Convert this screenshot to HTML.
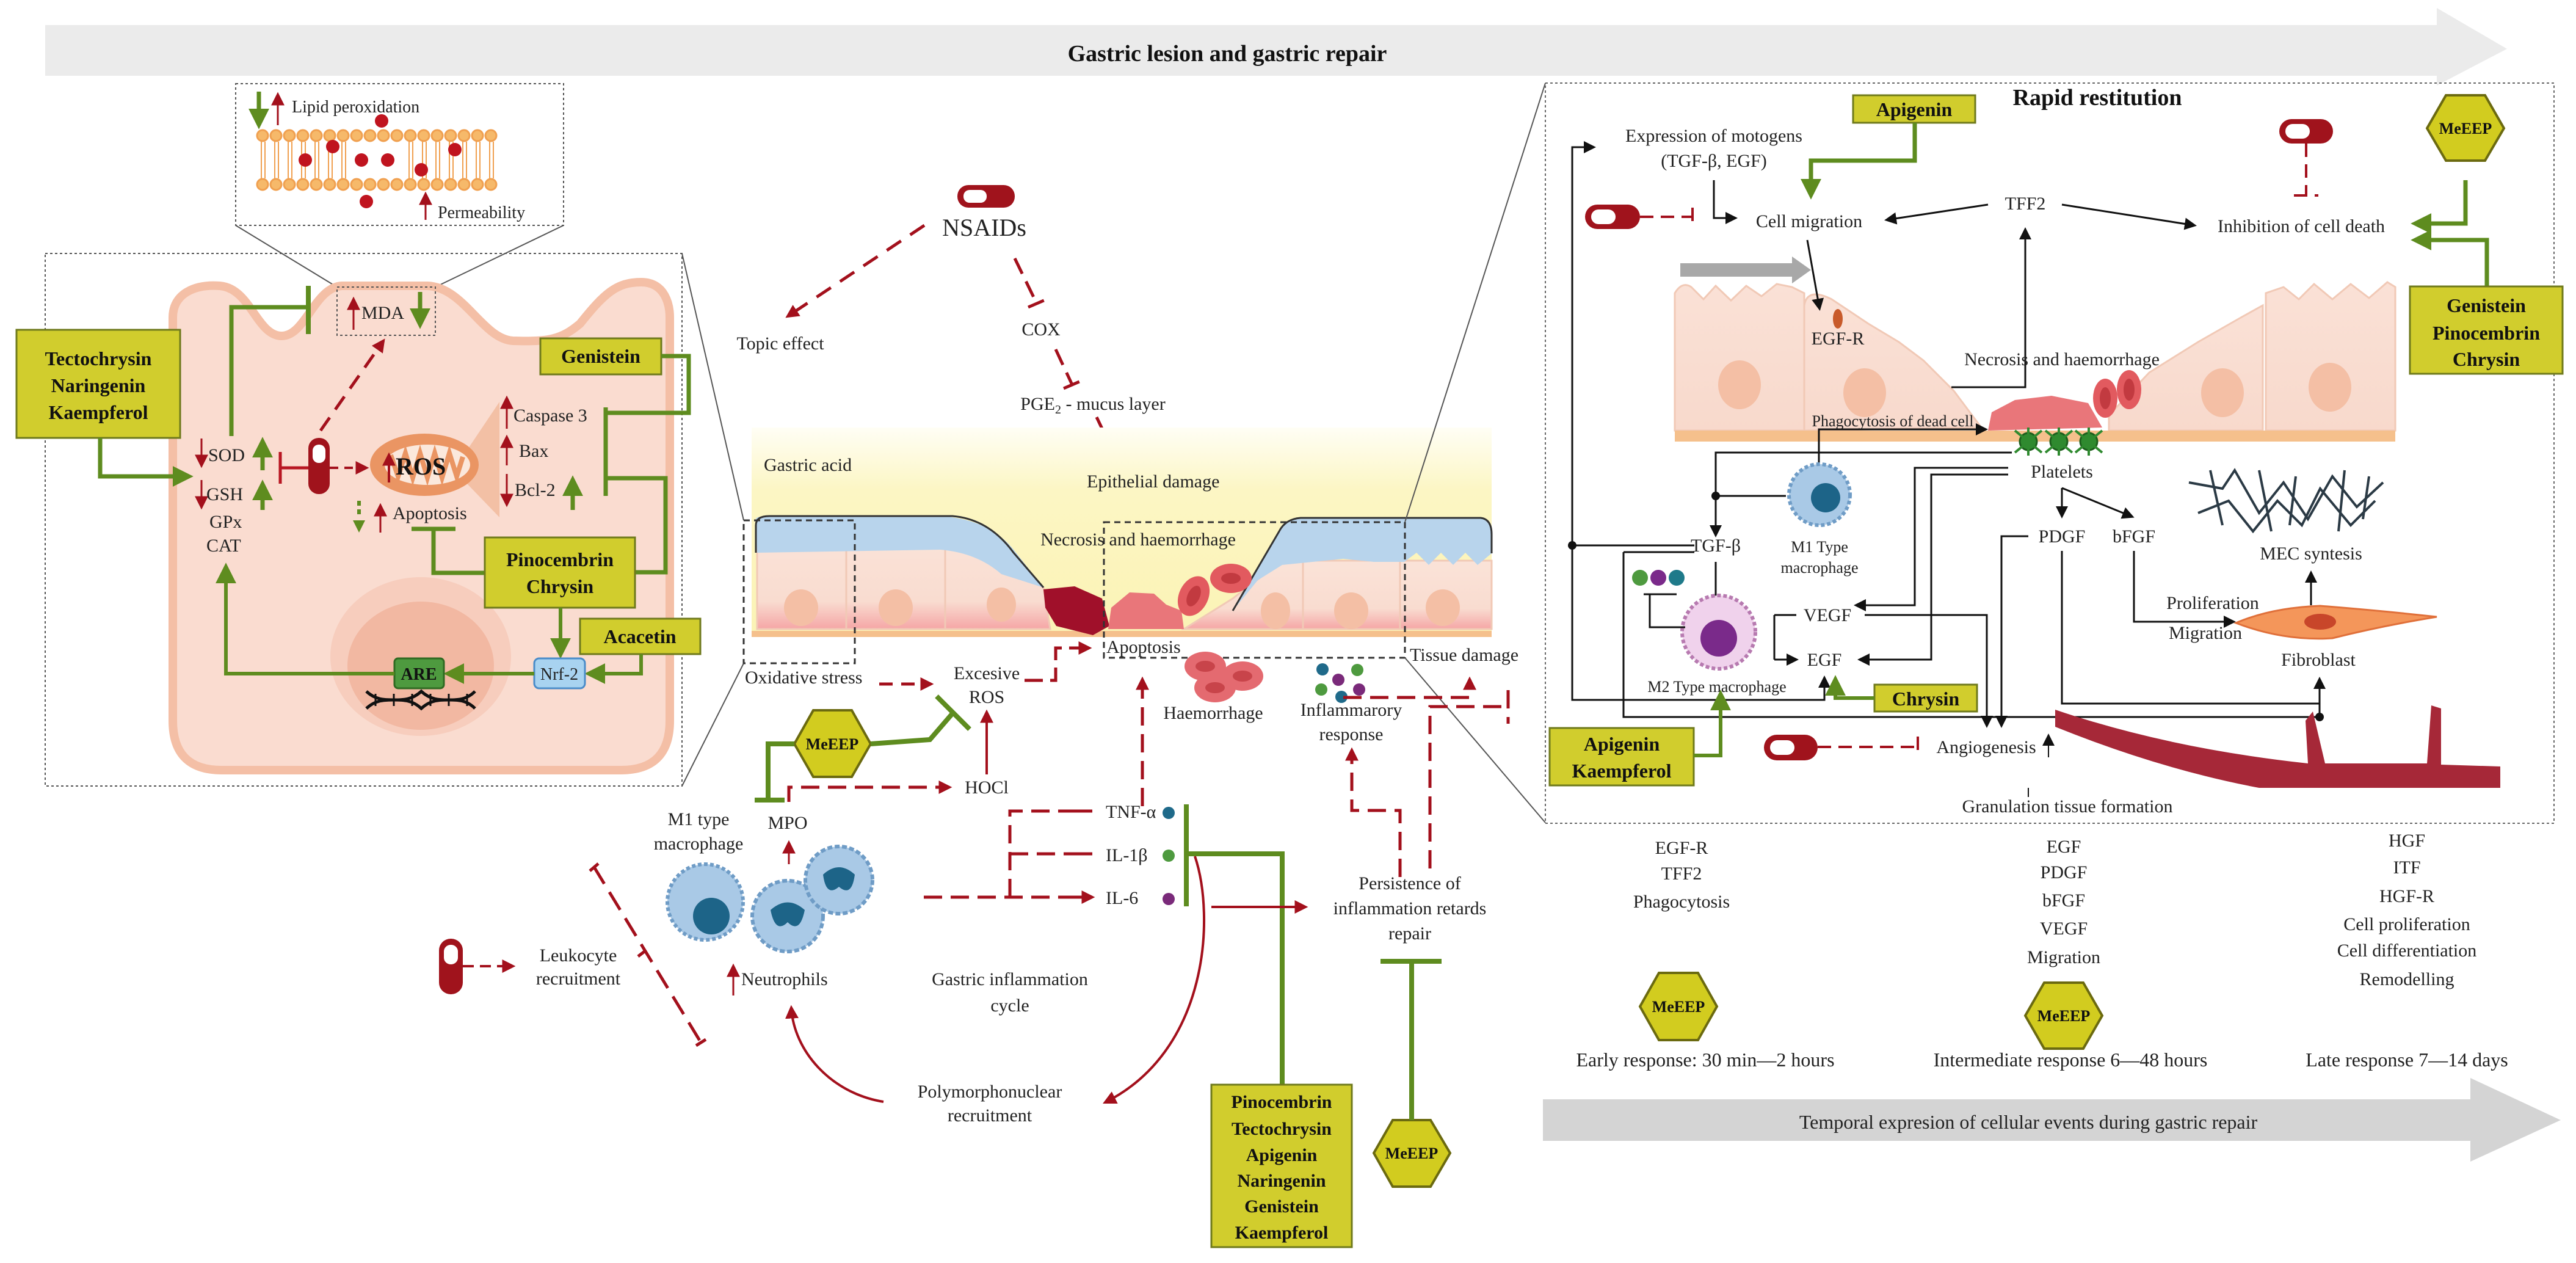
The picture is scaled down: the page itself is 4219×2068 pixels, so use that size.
<!DOCTYPE html>
<html><head><meta charset="utf-8"><style>
html,body{margin:0;padding:0;background:#fff}
svg{display:block}
text{font-family:"Liberation Serif","DejaVu Serif",serif;fill:#222;font-size:30px}
.b{font-weight:bold;fill:#111}
.m{text-anchor:middle}
</style></head><body>
<svg width="4219" height="2068" viewBox="0 0 4219 2068" xmlns="http://www.w3.org/2000/svg">
<defs>
<marker id="ar" viewBox="0 0 10 10" refX="8" refY="5" markerWidth="22" markerHeight="22" markerUnits="userSpaceOnUse" orient="auto"><path d="M0,0L10,5L0,10z" fill="#a3101c"/></marker>
<marker id="ag" viewBox="0 0 10 10" refX="8" refY="5" markerWidth="34" markerHeight="34" markerUnits="userSpaceOnUse" orient="auto"><path d="M0,0L10,5L0,10z" fill="#5e8c1f"/></marker>
<marker id="ak" viewBox="0 0 10 10" refX="8" refY="5" markerWidth="20" markerHeight="20" markerUnits="userSpaceOnUse" orient="auto"><path d="M0,0L10,5L0,10z" fill="#111"/></marker>
<linearGradient id="yel" x1="0" y1="0" x2="0" y2="1"><stop offset="0" stop-color="#fffef5"/><stop offset="0.3" stop-color="#fcf6c4"/><stop offset="1" stop-color="#fbf3b5"/></linearGradient>
<linearGradient id="cellg" x1="0" y1="0" x2="0" y2="1"><stop offset="0" stop-color="#fae3d8"/><stop offset="0.7" stop-color="#f9dcd0"/><stop offset="1" stop-color="#f5a6a6"/></linearGradient>
<linearGradient id="cellr" x1="0" y1="0" x2="0" y2="1"><stop offset="0" stop-color="#fae1d6"/><stop offset="1" stop-color="#f8d9cc"/></linearGradient>
</defs>

<polygon points="74,41 3991,41 3991,13 4106,80 3991,140 3991,124 74,124" fill="#ebebeb"/>
<text x="2010" y="100" class="b m" style="font-size:38px">Gastric lesion and gastric repair</text>

<rect x="386" y="137" width="537" height="232" fill="#fff" stroke="#555" stroke-width="2" stroke-dasharray="4 4"/>
<line x1="386" y1="369" x2="552" y2="470" stroke="#555" stroke-width="2"/>
<line x1="923" y1="369" x2="713" y2="470" stroke="#555" stroke-width="2"/>
<rect x="74" y="415" width="1043" height="872" fill="none" stroke="#555" stroke-width="2" stroke-dasharray="4 4"/>
<line x1="1117" y1="415" x2="1218" y2="852" stroke="#555" stroke-width="2"/>
<line x1="1117" y1="1287" x2="1218" y2="1086" stroke="#555" stroke-width="2"/>

<g stroke="#f0a050" stroke-width="3" fill="#f6b96a">
<g id="lip">
<circle cx="430" cy="222" r="9"/><circle cx="452" cy="222" r="9"/><circle cx="474" cy="222" r="9"/><circle cx="496" cy="222" r="9"/><circle cx="518" cy="222" r="9"/><circle cx="540" cy="222" r="9"/><circle cx="562" cy="222" r="9"/><circle cx="584" cy="222" r="9"/><circle cx="606" cy="222" r="9"/><circle cx="628" cy="222" r="9"/><circle cx="650" cy="222" r="9"/><circle cx="672" cy="222" r="9"/><circle cx="694" cy="222" r="9"/><circle cx="716" cy="222" r="9"/><circle cx="738" cy="222" r="9"/><circle cx="760" cy="222" r="9"/><circle cx="782" cy="222" r="9"/><circle cx="804" cy="222" r="9"/>
</g>
<use href="#lip" y="80"/>
</g>
<g stroke="#f0a050" stroke-width="2">
<path d="M428,232V292M434,232V292M450,232V292M456,232V292M472,232V292M478,232V292M494,232V292M500,232V292M516,232V292M522,232V292M538,232V292M544,232V292M560,232V292M566,232V292M670,232V292M676,232V292M692,232V292M698,232V292M714,232V292M720,232V292M736,232V292M742,232V292M758,232V292M764,232V292M780,232V292M786,232V292M802,232V292M808,232V292"/>
</g>
<g fill="#c0141f"><circle cx="500" cy="262" r="11"/><circle cx="545" cy="240" r="11"/><circle cx="592" cy="262" r="11"/><circle cx="625" cy="198" r="11"/><circle cx="635" cy="262" r="11"/><circle cx="690" cy="278" r="11"/><circle cx="745" cy="245" r="11"/><circle cx="600" cy="330" r="11"/></g>
<path d="M424,150V205" stroke="#5e8c1f" stroke-width="7" marker-end="url(#ag)"/>
<path d="M455,205V155" stroke="#a3101c" stroke-width="3" marker-end="url(#ar)"/>
<text x="478" y="184" style="font-size:28px">Lipid peroxidation</text>
<path d="M697,360V318" stroke="#a3101c" stroke-width="3" marker-end="url(#ar)"/>
<text x="717" y="357" style="font-size:28px">Permeability</text>

<path d="M283,1180V520C283,480 320,465 360,468C410,472 420,548 460,550C500,552 515,470 560,468L700,468C760,470 790,555 840,558C900,560 920,555 950,530C990,480 1010,462 1050,462C1090,462 1097,500 1097,520V1180Q1097,1261 1017,1261H363Q283,1261 283,1180Z" fill="#fadcd0" stroke="#f4bfa6" stroke-width="14"/>
<ellipse cx="689" cy="1075" rx="148" ry="130" fill="#f7cdbd"/>
<ellipse cx="689" cy="1090" rx="120" ry="105" fill="#f2b8a2"/>

<rect x="552" y="470" width="161" height="79" fill="none" stroke="#555" stroke-width="2" stroke-dasharray="4 4"/>
<path d="M579,540V490" stroke="#a3101c" stroke-width="3" marker-end="url(#ar)"/>
<text x="592" y="522">MDA</text>
<path d="M688,478V532" stroke="#5e8c1f" stroke-width="7" marker-end="url(#ag)"/>

<rect x="27" y="540" width="268" height="177" fill="#d1cd2d" stroke="#6f7a1c" stroke-width="3"/>
<text x="161" y="598" class="b m" style="font-size:32px">Tectochrysin</text>
<text x="161" y="642" class="b m" style="font-size:32px">Naringenin</text>
<text x="161" y="686" class="b m" style="font-size:32px">Kaempferol</text>
<path d="M164,717V780H310" fill="none" stroke="#5e8c1f" stroke-width="7" marker-end="url(#ag)"/>

<path d="M330,718V762" stroke="#a3101c" stroke-width="3" marker-end="url(#ar)"/>
<path d="M330,786V830" stroke="#a3101c" stroke-width="3" marker-end="url(#ar)"/>
<text x="341" y="755">SOD</text>
<text x="338" y="819">GSH</text>
<text x="343" y="864">GPx</text>
<text x="338" y="903">CAT</text>
<path d="M430,770V722" stroke="#5e8c1f" stroke-width="7" marker-end="url(#ag)"/>
<path d="M430,835V792" stroke="#5e8c1f" stroke-width="7" marker-end="url(#ag)"/>
<path d="M379,714V503H505" fill="none" stroke="#5e8c1f" stroke-width="7"/>
<path d="M505,468V547" stroke="#5e8c1f" stroke-width="8"/>
<path d="M459,740V792M459,766H505" stroke="#b81622" stroke-width="5" fill="none"/>
<rect x="505" y="717" width="35" height="92" rx="17" fill="#a0131c"/>
<rect x="512" y="728" width="21" height="30" rx="10" fill="#fff"/>
<path d="M540,766H600" stroke="#a3101c" stroke-width="4" stroke-dasharray="14 10" marker-end="url(#ar)"/>
<path d="M525,705L628,558" stroke="#a3101c" stroke-width="5" stroke-dasharray="26 16" marker-end="url(#ar)"/>
<polygon points="763,740 818,658 818,847 763,790" fill="#f3c0a5"/>
<ellipse cx="695" cy="761" rx="89" ry="51" fill="#ea9563"/>
<ellipse cx="700" cy="761" rx="70" ry="33" fill="#fbe8dc"/>
<path d="M640,745L652,780L664,742L676,782L688,742L700,782L712,742L724,782L736,742L748,780L758,748" fill="none" stroke="#ea9563" stroke-width="8"/>
<path d="M637,790V745" stroke="#a3101c" stroke-width="4" marker-end="url(#ar)"/>
<text x="648" y="777" class="b" style="font-size:40px">ROS</text>
<path d="M830,702V652" stroke="#a3101c" stroke-width="3" marker-end="url(#ar)"/>
<text x="841" y="690">Caspase 3</text>
<path d="M830,762V716" stroke="#a3101c" stroke-width="3" marker-end="url(#ar)"/>
<text x="850" y="748">Bax</text>
<path d="M830,776V826" stroke="#a3101c" stroke-width="3" marker-end="url(#ar)"/>
<text x="843" y="812">Bcl-2</text>
<path d="M938,835V785" stroke="#5e8c1f" stroke-width="7" marker-end="url(#ag)"/>
<path d="M588,820V848" stroke="#5e8c1f" stroke-width="6" stroke-dasharray="8 6"/>
<path d="M578,852L598,852L588,872Z" fill="#5e8c1f"/>
<path d="M623,872V828" stroke="#a3101c" stroke-width="3" marker-end="url(#ar)"/>
<text x="643" y="850">Apoptosis</text>
<path d="M674,866H746M710,866V938H794" fill="none" stroke="#5e8c1f" stroke-width="7"/>

<rect x="885" y="554" width="198" height="59" fill="#d1cd2d" stroke="#6f7a1c" stroke-width="3"/>
<text x="984" y="594" class="b m" style="font-size:32px">Genistein</text>
<path d="M1083,583H1128V676H992M992,667V812M1040,937H1090V783H992" fill="none" stroke="#5e8c1f" stroke-width="7"/>
<rect x="794" y="880" width="246" height="115" fill="#d1cd2d" stroke="#6f7a1c" stroke-width="3"/>
<text x="917" y="927" class="b m" style="font-size:32px">Pinocembrin</text>
<text x="917" y="971" class="b m" style="font-size:32px">Chrysin</text>
<rect x="950" y="1013" width="197" height="58" fill="#d1cd2d" stroke="#6f7a1c" stroke-width="3"/>
<text x="1048" y="1053" class="b m" style="font-size:32px">Acacetin</text>
<path d="M918,995V1072" stroke="#5e8c1f" stroke-width="6" marker-end="url(#ag)"/>
<path d="M1050,1071V1103H964" fill="none" stroke="#5e8c1f" stroke-width="6" marker-end="url(#ag)"/>
<rect x="875" y="1078" width="83" height="49" rx="8" fill="#a8d3f0" stroke="#4a8cc9" stroke-width="3"/>
<text x="916" y="1113" class="m" style="font-size:28px">Nrf-2</text>
<path d="M875,1103H733" stroke="#5e8c1f" stroke-width="6" marker-end="url(#ag)"/>
<rect x="646" y="1078" width="81" height="49" rx="6" fill="#4e9a3f" stroke="#2f6a22" stroke-width="3"/>
<text x="686" y="1113" class="b m" style="font-size:28px">ARE</text>
<path d="M646,1103H370V928" fill="none" stroke="#5e8c1f" stroke-width="6" marker-end="url(#ag)"/>
<g stroke="#111" stroke-width="5" fill="none"><path d="M600,1132C630,1160 660,1132 690,1160C720,1132 750,1160 778,1132"/><path d="M600,1160C630,1132 660,1160 690,1132C720,1160 750,1132 778,1160"/><path d="M615,1136V1156M645,1136V1156M675,1136V1156M705,1136V1156M735,1136V1156M765,1136V1156" stroke-width="3"/></g>

<rect x="1568" y="303" width="94" height="37" rx="18" fill="#a0131c"/>
<rect x="1578" y="311" width="38" height="21" rx="10" fill="#fff"/>
<text x="1612" y="386" class="m" style="font-size:40px">NSAIDs</text>
<path d="M1514,369L1290,518" stroke="#a3101c" stroke-width="5" stroke-dasharray="28 18" marker-end="url(#ar)"/>
<text x="1278" y="572" class="m">Topic effect</text>
<path d="M1662,423L1698,497M1684,503L1712,491" stroke="#a3101c" stroke-width="5" stroke-dasharray="28 14" fill="none"/>
<text x="1705" y="549" class="m">COX</text>
<path d="M1729,572L1756,630M1742,636L1770,624" stroke="#a3101c" stroke-width="5" stroke-dasharray="28 14" fill="none"/>
<text x="1790" y="671" class="m">PGE<tspan dy="6" style="font-size:20px">2</tspan><tspan dy="-6"> - mucus layer</tspan></text>
<path d="M1796,683L1829,752" stroke="#a3101c" stroke-width="5" stroke-dasharray="28 14" marker-end="url(#ar)"/>

<rect x="1231" y="700" width="1212" height="340" fill="url(#yel)"/>
<text x="1251" y="771">Gastric acid</text>
<text x="1780" y="798">Epithelial damage</text>
<path d="M1240,1030V880L1386,880V1030Z M1386,880H1548V1030H1386Z" fill="url(#cellg)" stroke="#f1c9b6" stroke-width="3"/>
<path d="M1548,880L1630,900L1709,962L1720,1030H1548Z" fill="url(#cellg)" stroke="#f1c9b6" stroke-width="3"/>
<path d="M1238,850Q1238,845 1260,845H1540Q1620,850 1660,900L1709,962L1640,940Q1600,905 1540,900L1240,905Z" fill="#b8d4ec"/>
<path d="M1238,905V860Q1238,845 1260,845H1560Q1620,850 1660,905L1709,962" fill="none" stroke="#333" stroke-width="3"/>
<ellipse cx="1312" cy="995" rx="28" ry="30" fill="#f4bfa5"/><ellipse cx="1467" cy="995" rx="28" ry="30" fill="#f4bfa5"/><ellipse cx="1640" cy="990" rx="24" ry="28" fill="#f4bfa5"/>
<path d="M2019,980L2100,918H2443V1030H1939Z" fill="url(#cellg)" stroke="#f1c9b6" stroke-width="3"/>
<path d="M2134,918V1030M2293,918V1030" stroke="#f1c9b6" stroke-width="3"/>
<path d="M2019,1000L2095,870Q2100,850 2130,848H2425Q2443,850 2443,875V906L2420,925L2400,905L2380,925L2360,905L2340,925L2320,905L2300,920L2250,920L2200,915L2150,920L2100,925L2060,950Z" fill="#b8d4ec"/>
<path d="M2019,1000L2095,870Q2105,850 2130,848H2425Q2443,850 2443,875V906" fill="none" stroke="#333" stroke-width="3"/>
<ellipse cx="2089" cy="1000" rx="24" ry="30" fill="#f4bfa5"/><ellipse cx="2213" cy="1000" rx="28" ry="30" fill="#f4bfa5"/><ellipse cx="2363" cy="995" rx="28" ry="30" fill="#f4bfa5"/>
<rect x="1231" y="1033" width="1212" height="10" fill="#f5c08c"/>
<path d="M1709,965L1760,960L1805,980L1817,1025L1790,1040L1730,1025L1712,995Z" fill="#a0102a"/>
<path d="M1815,1030L1820,995L1850,970L1890,972L1910,990L1935,1000L1939,1030Z" fill="#e9767a"/>
<ellipse cx="1955" cy="976" rx="24" ry="34" fill="#e25a5f" transform="rotate(25 1955 976)"/><ellipse cx="1955" cy="976" rx="10" ry="18" fill="#c23a40" transform="rotate(25 1955 976)"/>
<ellipse cx="2016" cy="947" rx="34" ry="24" fill="#e25a5f"/><ellipse cx="2016" cy="947" rx="16" ry="9" fill="#c23a40"/>
<rect x="1218" y="852" width="182" height="234" fill="none" stroke="#333" stroke-width="3" stroke-dasharray="10 7"/>
<rect x="1808" y="855" width="493" height="222" fill="none" stroke="#333" stroke-width="3" stroke-dasharray="10 7"/>
<text x="1864" y="893" class="m">Necrosis and haemorrhage</text>
<text x="1812" y="1069">Apoptosis</text>
<text x="2309" y="1082">Tissue damage</text>
<line x1="2301" y1="855" x2="2531" y2="136" stroke="#555" stroke-width="2"/>
<line x1="2301" y1="1077" x2="2531" y2="1347" stroke="#555" stroke-width="2"/>

<text x="1220" y="1119">Oxidative stress</text>
<path d="M1440,1120H1525" stroke="#a3101c" stroke-width="5" stroke-dasharray="22 14" marker-end="url(#ar)"/>
<text x="1616" y="1112" class="m">Excesive</text>
<text x="1616" y="1151" class="m">ROS</text>
<path d="M1678,1114H1729V1061H1784" fill="none" stroke="#a3101c" stroke-width="5" stroke-dasharray="30 12" marker-end="url(#ar)"/>
<g fill="#e46a70"><ellipse cx="1974" cy="1091" rx="34" ry="24"/><ellipse cx="2035" cy="1107" rx="34" ry="24"/><ellipse cx="1990" cy="1126" rx="34" ry="24"/></g>
<g fill="#c8444a"><ellipse cx="1974" cy="1091" rx="16" ry="9"/><ellipse cx="2035" cy="1107" rx="16" ry="9"/><ellipse cx="1990" cy="1126" rx="16" ry="9"/></g>
<text x="1987" y="1177" class="m">Haemorrhage</text>
<g><circle cx="2166" cy="1096" r="10" fill="#1f6a8a"/><circle cx="2223" cy="1097" r="10" fill="#4e9a3f"/><circle cx="2192" cy="1113" r="10" fill="#7a2a7a"/><circle cx="2164" cy="1129" r="10" fill="#4e9a3f"/><circle cx="2197" cy="1141" r="10" fill="#1f6a8a"/><circle cx="2226" cy="1129" r="10" fill="#7a2a7a"/></g>
<text x="2213" y="1172" class="m">Inflammarory</text>
<text x="2213" y="1212" class="m">response</text>
<path d="M2200,1142H2407V1112" fill="none" stroke="#a3101c" stroke-width="5" stroke-dasharray="30 14" marker-end="url(#ar)"/>
<path d="M2342,1422V1157H2470M2470,1130V1185" fill="none" stroke="#a3101c" stroke-width="5" stroke-dasharray="30 14"/>
<path d="M2293,1436V1327H2214V1228" fill="none" stroke="#a3101c" stroke-width="5" stroke-dasharray="30 14" marker-end="url(#ar)"/>
<path d="M1871,1320V1112" stroke="#a3101c" stroke-width="5" stroke-dasharray="30 14" marker-end="url(#ar)"/>

<polygon points="1301,1218 1332,1163 1395,1163 1426,1218 1395,1272 1332,1272" fill="#d2cc1f" stroke="#6b6a10" stroke-width="4"/>
<text x="1363" y="1227" class="b m" style="font-size:26px">MeEEP</text>
<path d="M1426,1218L1523,1211L1561,1167M1534,1140L1588,1194M1301,1218H1258V1310M1236,1310H1285" fill="none" stroke="#5e8c1f" stroke-width="8"/>
<text x="1616" y="1299" class="m">HOCl</text>
<path d="M1292,1313V1289H1555" fill="none" stroke="#a3101c" stroke-width="5" stroke-dasharray="30 14" marker-end="url(#ar)"/>
<path d="M1616,1268V1166" stroke="#a3101c" stroke-width="4" marker-end="url(#ar)"/>
<text x="1290" y="1357" class="m">MPO</text>
<path d="M1292,1415V1380" stroke="#a3101c" stroke-width="3" marker-end="url(#ar)"/>
<text x="1144" y="1351" class="m">M1 type</text>
<text x="1144" y="1391" class="m">macrophage</text>
<circle cx="1155" cy="1477" r="62" fill="#a9c9e6" stroke="#6f9cc6" stroke-width="6" stroke-dasharray="6 4"/>
<circle cx="1165" cy="1500" r="30" fill="#1d6488"/>
<circle cx="1290" cy="1500" r="58" fill="#a9c9e6" stroke="#6f9cc6" stroke-width="6" stroke-dasharray="8 4"/>
<path d="M1262,1490Q1290,1465 1318,1490Q1310,1530 1290,1510Q1270,1530 1262,1490Z" fill="#1d6488"/>
<circle cx="1374" cy="1441" r="55" fill="#a9c9e6" stroke="#6f9cc6" stroke-width="6" stroke-dasharray="8 4"/>
<path d="M1348,1432Q1374,1408 1400,1432Q1395,1470 1374,1452Q1353,1470 1348,1432Z" fill="#1d6488"/>
<path d="M1201,1630V1582" stroke="#a3101c" stroke-width="3" marker-end="url(#ar)"/>
<text x="1214" y="1613">Neutrophils</text>
<text x="1654" y="1613" class="m">Gastric inflammation</text>
<text x="1654" y="1656" class="m">cycle</text>
<path d="M1513,1469H1782M1654,1469V1328H1782M1654,1398H1782" fill="none" stroke="#a3101c" stroke-width="5" stroke-dasharray="30 14"/>
<path d="M1760,1328H1789M1760,1398H1789M1760,1469H1789" stroke="#a3101c" stroke-width="5" marker-end="url(#ar)"/>
<text x="1811" y="1339">TNF-α</text>
<text x="1811" y="1410">IL-1β</text>
<text x="1811" y="1480">IL-6</text>
<circle cx="1914" cy="1331" r="10" fill="#1f6a8a"/><circle cx="1914" cy="1401" r="10" fill="#4e9a3f"/><circle cx="1914" cy="1472" r="10" fill="#7a2a7a"/>
<path d="M1943,1317V1484M1943,1398H2100V1776" fill="none" stroke="#5e8c1f" stroke-width="8"/>
<path d="M1984,1485H2138" stroke="#a3101c" stroke-width="4" marker-end="url(#ar)"/>
<text x="2309" y="1456" class="m">Persistence of</text>
<text x="2309" y="1497" class="m">inflammation retards</text>
<text x="2309" y="1538" class="m">repair</text>
<path d="M1957,1402C1990,1500 1980,1720 1810,1805" fill="none" stroke="#a3101c" stroke-width="4" marker-end="url(#ar)"/>
<path d="M1447,1804C1360,1790 1300,1720 1296,1650" fill="none" stroke="#a3101c" stroke-width="4" marker-end="url(#ar)"/>
<text x="1621" y="1797" class="m">Polymorphonuclear</text>
<text x="1621" y="1836" class="m">recruitment</text>
<rect x="1984" y="1776" width="230" height="266" fill="#d1cd2d" stroke="#6f7a1c" stroke-width="3"/>
<text x="2099" y="1814" class="b m">Pinocembrin</text>
<text x="2099" y="1858" class="b m">Tectochrysin</text>
<text x="2099" y="1901" class="b m">Apigenin</text>
<text x="2099" y="1943" class="b m">Naringenin</text>
<text x="2099" y="1985" class="b m">Genistein</text>
<text x="2099" y="2028" class="b m">Kaempferol</text>
<polygon points="2250,1888 2281,1834 2343,1834 2375,1888 2343,1943 2281,1943" fill="#d2cc1f" stroke="#6b6a10" stroke-width="4"/>
<text x="2312" y="1897" class="b m" style="font-size:26px">MeEEP</text>
<path d="M2312,1834V1574M2261,1574H2361" fill="none" stroke="#5e8c1f" stroke-width="8"/>
<rect x="719" y="1537" width="39" height="91" rx="19" fill="#a0131c"/>
<rect x="727" y="1547" width="23" height="32" rx="11" fill="#fff"/>
<path d="M758,1582H840" stroke="#a3101c" stroke-width="4" stroke-dasharray="18 10" marker-end="url(#ar)"/>
<text x="947" y="1574" class="m">Leukocyte</text>
<text x="947" y="1612" class="m">recruitment</text>
<path d="M972,1418L1148,1707M966,1426L980,1414M1140,1712L1156,1702M1045,1566L1058,1556" fill="none" stroke="#a3101c" stroke-width="5" stroke-dasharray="34 16"/>

<rect x="2531" y="136" width="1652" height="1212" fill="none" stroke="#666" stroke-width="2" stroke-dasharray="4 4"/>
<text x="3435" y="172" class="b m" style="font-size:38px">Rapid restitution</text>
<rect x="3035" y="156" width="200" height="45" fill="#d1cd2d" stroke="#6f7a1c" stroke-width="3"/>
<text x="3135" y="190" class="b m" style="font-size:32px">Apigenin</text>
<path d="M3136,201V263H2966V320" fill="none" stroke="#5e8c1f" stroke-width="7" marker-end="url(#ag)"/>
<text x="2807" y="232" class="m">Expression of motogens</text>
<text x="2807" y="273" class="m">(TGF-β, EGF)</text>
<path d="M2575,893V241H2610" fill="none" stroke="#111" stroke-width="3" marker-end="url(#ak)"/>
<path d="M2575,893V1146H2988V1110" fill="none" stroke="#111" stroke-width="3" marker-end="url(#ak)"/>
<circle cx="2575" cy="893" r="7" fill="#111"/>
<rect x="2596" y="335" width="90" height="40" rx="20" fill="#a0131c"/><rect x="2606" y="343" width="40" height="24" rx="12" fill="#fff"/>
<path d="M2686,355H2770M2772,340V370" fill="none" stroke="#a3101c" stroke-width="4" stroke-dasharray="22 12"/>
<path d="M2807,295V357H2842" fill="none" stroke="#111" stroke-width="3" marker-end="url(#ak)"/>
<text x="2963" y="372" class="m">Cell migration</text>
<text x="3317" y="343" class="m">TFF2</text>
<path d="M3256,335L3090,360" stroke="#111" stroke-width="3" marker-end="url(#ak)"/>
<path d="M3377,335L3594,369" stroke="#111" stroke-width="3" marker-end="url(#ak)"/>
<text x="3769" y="380" class="m">Inhibition of cell death</text>
<rect x="3733" y="195" width="88" height="40" rx="20" fill="#a0131c"/><rect x="3743" y="203" width="40" height="24" rx="12" fill="#fff"/>
<path d="M3777,235V320M3757,320H3797" fill="none" stroke="#a3101c" stroke-width="4" stroke-dasharray="22 12"/>
<polygon points="3975,210 4006,156 4070,156 4101,210 4070,263 4006,263" fill="#d2cc1f" stroke="#6b6a10" stroke-width="4"/>
<text x="4038" y="219" class="b m" style="font-size:26px">MeEEP</text>
<path d="M4038,295V366H3955" fill="none" stroke="#5e8c1f" stroke-width="7" marker-end="url(#ag)"/>
<path d="M4073,469V393H3955" fill="none" stroke="#5e8c1f" stroke-width="7" marker-end="url(#ag)"/>
<rect x="3947" y="469" width="250" height="143" fill="#d1cd2d" stroke="#6f7a1c" stroke-width="3"/>
<text x="4072" y="511" class="b m" style="font-size:32px">Genistein</text>
<text x="4072" y="556" class="b m" style="font-size:32px">Pinocembrin</text>
<text x="4072" y="599" class="b m" style="font-size:32px">Chrysin</text>
<polygon points="2752,431 2935,431 2935,420 2966,442 2935,464 2935,453 2752,453" fill="#a8a8a8"/>
<path d="M2743,705V480Q2755,460 2770,470L2790,490L2810,468L2835,492L2860,468L2885,485L2910,465L2935,470L2955,480V705Z" fill="url(#cellr)" stroke="#f1c9b6" stroke-width="3"/>
<path d="M2955,705V500Q2960,470 3000,490L3060,530L3110,560L3150,590L3200,640L3245,700Z" fill="url(#cellr)" stroke="#f1c9b6" stroke-width="3"/>
<path d="M3454,705V680L3520,610L3600,560L3670,520L3706,500V705Z" fill="url(#cellr)" stroke="#f1c9b6" stroke-width="3"/>
<path d="M3711,705V480L3740,470L3765,490L3790,465L3820,490L3850,465L3880,488L3910,462L3923,470V705Z" fill="url(#cellr)" stroke="#f1c9b6" stroke-width="3"/>
<rect x="2743" y="705" width="1180" height="18" fill="#f5c08c"/>
<g fill="#f4bfa5"><ellipse cx="2849" cy="630" rx="35" ry="40"/><ellipse cx="3054" cy="643" rx="35" ry="40"/><ellipse cx="3640" cy="643" rx="35" ry="40"/><ellipse cx="3816" cy="634" rx="35" ry="40"/></g>
<path d="M3256,705L3262,675L3300,655L3360,648L3420,660L3443,700Z" fill="#e9767a"/>
<ellipse cx="3448" cy="652" rx="20" ry="32" fill="#e25a5f"/><ellipse cx="3487" cy="638" rx="20" ry="32" fill="#e25a5f"/>
<ellipse cx="3448" cy="652" rx="9" ry="18" fill="#c23a40"/><ellipse cx="3487" cy="638" rx="9" ry="18" fill="#c23a40"/>
<ellipse cx="3010" cy="522" rx="8" ry="16" fill="#c85a2a"/>
<path d="M2960,393L2980,505" stroke="#111" stroke-width="3" marker-end="url(#ak)"/>
<text x="3010" y="564" class="m">EGF-R</text>
<path d="M3196,634H3317V376" fill="none" stroke="#111" stroke-width="3" marker-end="url(#ak)"/>
<text x="3377" y="598" class="m">Necrosis and haemorrhage</text>
<text x="3100" y="698" class="m" style="font-size:26px">Phagocytosis of dead cell</text>
<path d="M2979,759V703H3252" fill="none" stroke="#111" stroke-width="3" marker-end="url(#ak)"/>
<g fill="#2f8a2f" stroke="#1d5e1d" stroke-width="3"><circle cx="3322" cy="723" r="14"/><circle cx="3372" cy="723" r="14"/><circle cx="3421" cy="723" r="14"/></g>
<g stroke="#2f8a2f" stroke-width="4"><path d="M3300,705L3344,741M3344,705L3300,741M3322,700V746M3350,705L3394,741M3394,705L3350,741M3372,700V746M3399,705L3443,741M3443,705L3399,741M3421,700V746"/></g>
<text x="3377" y="782" class="m">Platelets</text>
<path d="M3295,741H2810V876" fill="none" stroke="#111" stroke-width="3" marker-end="url(#ak)"/>
<path d="M2810,812H2925" stroke="#111" stroke-width="3"/><circle cx="2810" cy="812" r="7" fill="#111"/>
<circle cx="2980" cy="810" r="50" fill="#a9c9e6" stroke="#6f9cc6" stroke-width="6" stroke-dasharray="6 4"/>
<circle cx="2990" cy="815" r="24" fill="#1d6488"/>
<text x="2980" y="904" class="m" style="font-size:26px">M1 Type</text>
<text x="2980" y="938" class="m" style="font-size:26px">macrophage</text>
<text x="2810" y="903" class="m">TGF-β</text>
<path d="M2575,893H2775M2659,904H2775M2659,904V1174H3799" fill="none" stroke="#111" stroke-width="3"/>
<path d="M2810,920V982" stroke="#111" stroke-width="3"/>
<circle cx="3799" cy="1174" r="7" fill="#111"/>
<path d="M3799,1174V1112" stroke="#111" stroke-width="3" marker-end="url(#ak)"/>
<path d="M3289,766H3136V991H3040" fill="none" stroke="#111" stroke-width="3" marker-end="url(#ak)"/>
<path d="M3289,777H3163V1080H3046" fill="none" stroke="#111" stroke-width="3" marker-end="url(#ak)"/>
<text x="3377" y="888" class="m">PDGF</text>
<text x="3495" y="888" class="m">bFGF</text>
<path d="M3377,799V845" stroke="#111" stroke-width="3" marker-end="url(#ak)"/>
<path d="M3377,799L3492,846" stroke="#111" stroke-width="3" marker-end="url(#ak)"/>
<path d="M3322,878H3278V1188" fill="none" stroke="#111" stroke-width="3" marker-end="url(#ak)"/>
<path d="M3377,902V1152H3799" fill="none" stroke="#111" stroke-width="3"/>
<path d="M3495,902V1018H3658" fill="none" stroke="#111" stroke-width="3" marker-end="url(#ak)"/>
<text x="2993" y="1017" class="m">VEGF</text>
<text x="2988" y="1090" class="m">EGF</text>
<path d="M2906,1007V1080M2906,1007H2936M2906,1080H2936" fill="none" stroke="#111" stroke-width="3"/>
<path d="M2920,1007H2942M2920,1080H2942" stroke="#111" stroke-width="3" marker-end="url(#ak)"/>
<path d="M3054,1007H3254V1188" fill="none" stroke="#111" stroke-width="3" marker-end="url(#ak)"/>
<circle cx="2815" cy="1035" r="60" fill="#f0d2ec" stroke="#b77ab0" stroke-width="6" stroke-dasharray="6 4"/>
<circle cx="2815" cy="1045" r="30" fill="#7a2a8a"/>
<text x="2812" y="1133" class="m" style="font-size:26px">M2 Type macrophage</text>
<circle cx="2686" cy="946" r="13" fill="#4e9a3f"/><circle cx="2716" cy="946" r="13" fill="#7a2a8a"/><circle cx="2746" cy="946" r="13" fill="#1f7a8a"/>
<path d="M2692,973H2746M2702,973V1027H2760" fill="none" stroke="#111" stroke-width="3"/>
<rect x="3070" y="1121" width="168" height="44" fill="#d1cd2d" stroke="#6f7a1c" stroke-width="3"/>
<text x="3154" y="1155" class="b m" style="font-size:32px">Chrysin</text>
<path d="M3070,1143H3006V1112" fill="none" stroke="#5e8c1f" stroke-width="6" marker-end="url(#ag)"/>
<rect x="2538" y="1192" width="236" height="94" fill="#d1cd2d" stroke="#6f7a1c" stroke-width="3"/>
<text x="2656" y="1229" class="b m" style="font-size:32px">Apigenin</text>
<text x="2656" y="1273" class="b m" style="font-size:32px">Kaempferol</text>
<path d="M2774,1237H2818V1136" fill="none" stroke="#5e8c1f" stroke-width="6" marker-end="url(#ag)"/>
<rect x="2889" y="1203" width="88" height="42" rx="21" fill="#a0131c"/><rect x="2899" y="1212" width="40" height="24" rx="12" fill="#fff"/>
<path d="M2977,1223H3140M3141,1206V1240" fill="none" stroke="#a3101c" stroke-width="4" stroke-dasharray="22 12"/>
<text x="3253" y="1233" class="m">Angiogenesis</text>
<path d="M3355,1240V1205" stroke="#111" stroke-width="2" marker-end="url(#ak)"/>
<path d="M3366,1162Q3550,1225 3780,1250L3776,1180L3788,1165L3808,1250L3975,1250L3982,1155L3998,1160L3998,1252L4095,1255L4095,1290L3700,1290Q3540,1260 3366,1190Z" fill="#a62838"/>
<path d="M3322,1290V1305" stroke="#111" stroke-width="2"/>
<text x="3386" y="1330" class="m">Granulation tissue formation</text>
<g stroke="#2b3a45" stroke-width="4" fill="none"><path d="M3585,790L3640,800L3660,770L3700,840L3740,790L3780,850L3820,780L3860,830L3903,790M3600,840L3650,820L3690,870L3730,820L3770,860L3800,800L3850,860L3890,820M3620,770L3640,860M3700,770L3720,870M3760,780L3750,860M3840,770L3830,870M3880,780L3870,850"/></g>
<text x="3785" y="916" class="m">MEC syntesis</text>
<path d="M3785,991V938" stroke="#111" stroke-width="3" marker-end="url(#ak)"/>
<text x="3624" y="997" class="m">Proliferation</text>
<text x="3612" y="1046" class="m">Migration</text>
<path d="M3662,1020Q3720,995 3800,992Q3900,1000 3991,1010Q3900,1025 3820,1045Q3740,1050 3662,1020Z" fill="#f4965a" stroke="#e0703a" stroke-width="3"/>
<ellipse cx="3800" cy="1018" rx="26" ry="13" fill="#c8462a"/>
<text x="3797" y="1090" class="m">Fibroblast</text>

<text x="2754" y="1398" class="m">EGF-R</text>
<text x="2754" y="1440" class="m">TFF2</text>
<text x="2754" y="1486" class="m">Phagocytosis</text>
<text x="3380" y="1396" class="m">EGF</text>
<text x="3380" y="1438" class="m">PDGF</text>
<text x="3380" y="1484" class="m">bFGF</text>
<text x="3380" y="1530" class="m">VEGF</text>
<text x="3380" y="1577" class="m">Migration</text>
<text x="3942" y="1386" class="m">HGF</text>
<text x="3942" y="1430" class="m">ITF</text>
<text x="3942" y="1477" class="m">HGF-R</text>
<text x="3942" y="1523" class="m">Cell proliferation</text>
<text x="3942" y="1566" class="m">Cell differentiation</text>
<text x="3942" y="1613" class="m">Remodelling</text>
<polygon points="2686,1648 2717,1593 2781,1593 2812,1648 2781,1703 2717,1703" fill="#d2cc1f" stroke="#6b6a10" stroke-width="4"/>
<text x="2749" y="1657" class="b m" style="font-size:26px">MeEEP</text>
<polygon points="3317,1663 3348,1609 3412,1609 3443,1663 3412,1717 3348,1717" fill="#d2cc1f" stroke="#6b6a10" stroke-width="4"/>
<text x="3380" y="1672" class="b m" style="font-size:26px">MeEEP</text>
<text x="2793" y="1746" class="m" style="font-size:32px">Early response: 30 min—2 hours</text>
<text x="3391" y="1746" class="m" style="font-size:32px">Intermediate response 6—48 hours</text>
<text x="3942" y="1746" class="m" style="font-size:32px">Late response 7—14 days</text>
<polygon points="2527,1800 4046,1800 4046,1765 4194,1834 4046,1902 4046,1868 2527,1868" fill="#d4d4d4"/>
<text x="3322" y="1848" class="m" style="font-size:32px">Temporal expresion of cellular events during gastric repair</text>
</svg>
</body></html>
